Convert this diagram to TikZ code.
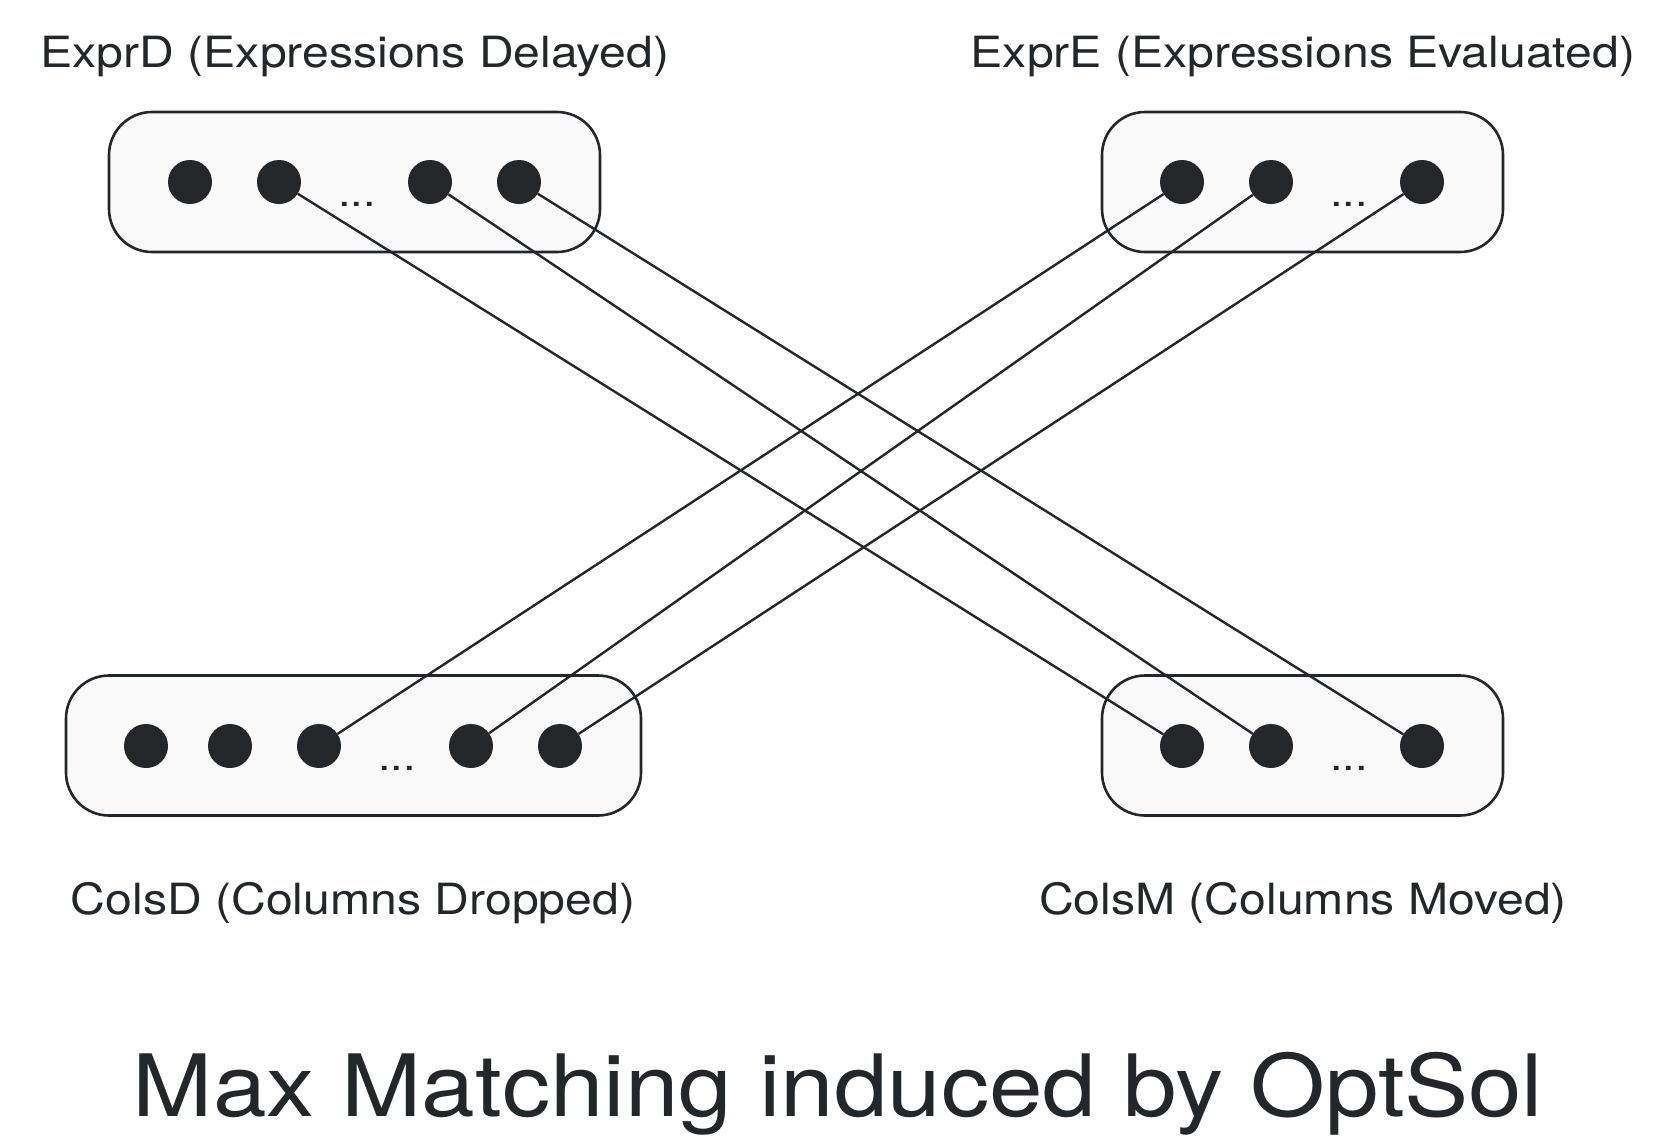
\documentclass[tikz,border=0pt]{standalone}
\usepackage{fontspec}
\setmainfont{TeX Gyre Heros}[FakeStretch=1.12]
\usepackage{xcolor}
\usepackage{tikz}
\usetikzlibrary{positioning}

\definecolor{inkDark}{RGB}{35,39,42}
\definecolor{setFill}{RGB}{249,249,249}

\begin{document}
\begin{tikzpicture}[
  x=1pt, y=-1pt,
  setBox/.style={rectangle, rounded corners=43pt,
    minimum height=140pt, inner sep=0pt,
    fill=setFill, draw=inkDark, line width=2.6pt},
  elem/.style={circle, fill=inkDark, draw=none,
    minimum size=44pt, inner sep=0pt},
  dotsLbl/.style={anchor=base, inner sep=0pt, text=inkDark,
    font=\fontsize{40}{44}\selectfont},
  setLbl/.style={anchor=base, inner sep=0pt, text=inkDark,
    font=\fontsize{43}{48}\selectfont},
  titleLbl/.style={anchor=base, inner sep=0pt, text=inkDark,
    font=\fontsize{86}{96}\selectfont},
  match/.style={line width=2.4pt, color=inkDark},
]
  \useasboundingbox (0,0) rectangle (1674,1144);

  %% ── Set boxes ───────────────────────────────────────────────
  \node[setBox, minimum width=491pt] (exprD) at (354.5,182) {};
  \node[setBox, minimum width=401pt] (exprE) at (1302.5,182) {};
  \node[setBox, minimum width=575pt] (colsD) at (353.5,745.5) {};
  \node[setBox, minimum width=401pt] (colsM) at (1302.5,745.5) {};

  %% ── Labels ──────────────────────────────────────────────────
  \node[setLbl] (exprDLbl) at (355,67)   {ExprD (Expressions Delayed)};
  \node[setLbl] (exprELbl) at (1303,67)  {ExprE (Expressions Evaluated)};
  \node[setLbl] (colsDLbl) at (353,914)  {ColsD (Columns Dropped)};
  \node[setLbl] (colsMLbl) at (1303,914) {ColsM (Columns Moved)};
  \node[titleLbl] (title) at (838,1116) {Max Matching induced by OptSol};

  %% ── Elements ────────────────────────────────────────────────
  \foreach \n/\x in {1/190, 2/279, 3/430, 4/519}
    \node[elem] (d\n) at (\x,182) {};
  \foreach \n/\x in {1/1182, 2/1271, 3/1422}
    \node[elem] (e\n) at (\x,182) {};
  \foreach \n/\x in {1/146, 2/230, 3/319, 4/471, 5/560}
    \node[elem] (c\n) at (\x,746) {};
  \foreach \n/\x in {1/1182, 2/1271, 3/1422}
    \node[elem] (m\n) at (\x,746) {};

  %% ── Ellipses ────────────────────────────────────────────────
  \node[dotsLbl] (dDots) at (357,206)  {...};
  \node[dotsLbl] (eDots) at (1349,206) {...};
  \node[dotsLbl] (cDots) at (397,770)  {...};
  \node[dotsLbl] (mDots) at (1349,770) {...};

  %% ── Matching edges ──────────────────────────────────────────
  \foreach \f/\t in {d2/m1, d3/m2, d4/m3, e1/c3, e2/c4, e3/c5}
    \draw[match] (\f) -- (\t);

\end{tikzpicture}
\end{document}
